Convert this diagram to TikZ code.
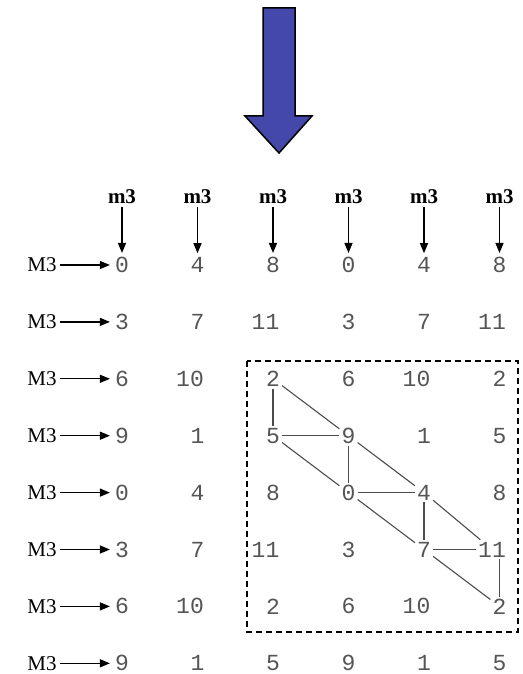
\documentclass[tikz,border=0pt]{standalone}
\usepackage{fontspec}
\setmainfont{Liberation Serif}
\newfontfamily\numfont{Liberation Mono}
\usetikzlibrary{arrows.meta}
\definecolor{bigblue}{RGB}{68,72,170}
\definecolor{numgray}{RGB}{85,85,85}
\tikzset{
  num/.style={font=\numfont\fontsize{23}{26}\selectfont, text=numgray, inner sep=2pt},
  lab/.style={font=\fontsize{21}{24}\selectfont, inner sep=3pt},
  labb/.style={font=\bfseries\fontsize{21}{24}\selectfont, inner sep=3pt},
  arr/.style={line width=1.3pt, -{Triangle[length=10pt,width=8pt]}},
  link/.style={line width=1.1pt, draw=black!70},
  dashbox/.style={line width=1.6pt, dash pattern=on 6pt off 4pt},
}
\begin{document}
\begin{tikzpicture}[x=1pt,y=-1pt]
\useasboundingbox (0,0) rectangle (522,674);
% big blue arrow
\filldraw[fill=bigblue, draw=black, line width=1.5pt, line join=miter]
  (263,8) -- (295,8) -- (295,116) -- (312,116) -- (279,153) -- (245,116) -- (263,116) -- cycle;
% number grid
\foreach [count=\r] \rowvals in {{0,4,8,0,4,8},{3,7,11,3,7,11},{6,10,2,6,10,2},{9,1,5,9,1,5},{0,4,8,0,4,8},{3,7,11,3,7,11},{6,10,2,6,10,2},{9,1,5,9,1,5}} {
  \foreach [count=\c] \v in \rowvals {
    \pgfmathsetmacro\xx{122+75.5*(\c-1) - (\v>9 ? 7.5 : 0)}
    \pgfmathsetmacro\yy{265+56.9*(\r-1)}
    \node[num] (n-\r-\c) at (\xx,\yy) {\v};
  }
  \pgfmathsetmacro\yy{265+56.9*(\r-1)}
  \node[lab] (M-\r) at (42,\yy) {M3};
  \draw[arr, shorten >=3pt] (M-\r) -- (n-\r-1);
}
% column labels
\foreach \c in {1,...,6} {
  \pgfmathsetmacro\xx{122+75.5*(\c-1)}
  \node[labb] (m-\c) at (\xx,197) {m3};
  \draw[arr, shorten >=2pt] (m-\c) -- (n-1-\c);
}
% dashed box
\draw[dashbox] (247,361) rectangle (518,632);
% links
\foreach \a/\b in {n-3-3/n-4-3, n-3-3/n-4-4, n-4-3/n-4-4, n-4-3/n-5-4, n-4-4/n-5-4,
                   n-4-4/n-5-5, n-5-4/n-5-5, n-5-4/n-6-5, n-5-5/n-6-5, n-5-5/n-6-6,
                   n-6-5/n-6-6, n-6-5/n-7-6}
  \draw[link] (\a) -- (\b);
\draw[link] (n-7-6.north) -- (n-7-6.north |- n-6-6.south);
\end{tikzpicture}
\end{document}
